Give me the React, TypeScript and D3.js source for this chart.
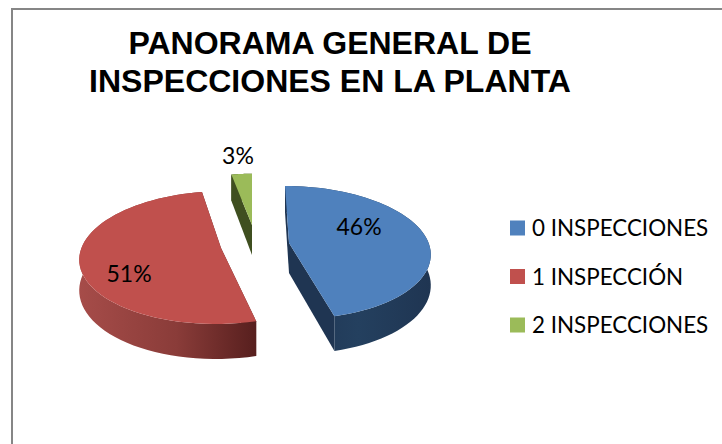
import React from 'react'
import * as d3 from 'd3'

const width = 722, height = 444

const categories = ['0 INSPECCIONES', '1 INSPECCIÓN', '2 INSPECCIONES']
const percents = [46, 51, 3]
const titleLines = ['PANORAMA GENERAL DE', 'INSPECCIONES EN LA PLANTA']

const topColors = ['#4f81bd', '#c0504d', '#9bbb59']
const cutColors = ['#1f3552', '#5a2020', '#3f4f20']

// exploded slice centres on screen, how much each slice is shrunk,
// and the lean each one gets from the vanishing point
const centers = [[289, 243], [221, 248], [252, 225]]
const shrink = [1, 1, 0.9]
const lean = [0.07, -0.07, 0]
const labelOffsets = [[70, -17], [-92, 25], [-14, -70]]

// perspective projection of the tilted pie
const R = 139.6, S = 65.1, K = 0.143, DEPTH = 30

const color = d3.scaleOrdinal<string, string>().domain(categories).range(topColors)
const legendY = d3.scalePoint<string>().domain(categories).range([228, 325])

const project = (i: number, a: number, r = 1, z = 0): [number, number] => {
  const w = 1 + K * r * Math.cos(a)
  const s = shrink[i]
  const dy = -(s * S * r * Math.cos(a)) / w
  return [
    centers[i][0] + (s * R * r * Math.sin(a)) / w + lean[i] * dy,
    centers[i][1] + dy + (z * DEPTH) / w
  ]
}

const line = d3.line().curve(d3.curveLinear)

const arcPoints = (i: number, a0: number, a1: number, z = 0) =>
  d3.range(0, 61).map(t => project(i, a0 + ((a1 - a0) * t) / 60, 1, z))

export default function App() {
  const slices = d3.pie<number>().sort(null)(percents)

  return (
    <svg
      width={width}
      height={height}
      style={{ position: 'absolute', left: 0, top: 0, background: '#fff' }}
    >
      <defs>
        <linearGradient id="wall0" x1="0" x2="1" y1="0" y2="0">
          <stop offset="0" stopColor="#1f3552" />
          <stop offset="0.5" stopColor="#24405f" />
          <stop offset="1" stopColor="#1f3552" />
        </linearGradient>
        <linearGradient id="wall1" x1="0" x2="1" y1="0" y2="0">
          <stop offset="0" stopColor="#a64c49" />
          <stop offset="0.55" stopColor="#8a3c39" />
          <stop offset="1" stopColor="#571f1e" />
        </linearGradient>
        <linearGradient id="wall2" x1="0" x2="1" y1="0" y2="0">
          <stop offset="0" stopColor="#3f4f20" />
          <stop offset="1" stopColor="#3f4f20" />
        </linearGradient>
      </defs>

      <rect x={11} y={8} width={width - 11} height={2} fill="#868686" />
      <rect x={11} y={8} width={2} height={height - 8} fill="#868686" />

      <text
        fontFamily="Liberation Sans"
        fontWeight="bold"
        fontSize={32}
        textAnchor="middle"
        fill="#000"
      >
        {titleLines.map((t, i) => (
          <tspan key={t} x={330} y={54 + i * 38}>
            {t}
          </tspan>
        ))}
      </text>

      {slices.map((d, i) => {
        const start = [project(i, 0, 0), project(i, d.startAngle)]
        const end = [project(i, 0, 0), project(i, d.endAngle)]
        const cutFace = (edge: [number, number][], a: number) => [
          edge[0],
          edge[1],
          project(i, a, 1, 1),
          project(i, 0, 0, 1)
        ] as [number, number][]
        const top = arcPoints(i, d.startAngle, d.endAngle)
        const bottom = arcPoints(i, d.startAngle, d.endAngle, 1).reverse()
        return (
          <g key={categories[i]}>
            <path d={line(cutFace(start as [number, number][], d.startAngle)) + 'Z'} fill={cutColors[i]} />
            <path d={line(cutFace(end as [number, number][], d.endAngle)) + 'Z'} fill={cutColors[i]} />
            <path d={line([...top, ...bottom]) + 'Z'} fill={`url(#wall${i})`} />
            <path d={line([project(i, 0, 0), ...top]) + 'Z'} fill={color(categories[i])} />
          </g>
        )
      })}

      <g fontFamily="Lato" fontSize={23} fill="#000">
        {slices.map((d, i) => (
          <text
            key={categories[i]}
            x={centers[i][0] + labelOffsets[i][0]}
            y={centers[i][1] + labelOffsets[i][1]}
            textAnchor="middle"
            dominantBaseline="central"
          >
            {d.value}%
          </text>
        ))}
        {categories.map(c => (
          <g key={c} transform={`translate(510,${legendY(c)})`}>
            <rect x={0} y={-7.5} width={15} height={15} fill={color(c)} />
            <text x={22} y={8} fontSize={22.4}>
              {c}
            </text>
          </g>
        ))}
      </g>
    </svg>
  )
}
